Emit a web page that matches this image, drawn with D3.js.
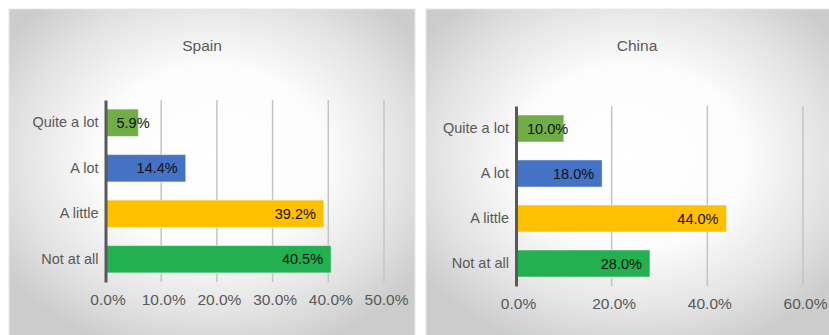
<!DOCTYPE html>
<html>
<head>
<meta charset="utf-8">
<script src="https://cdn.jsdelivr.net/npm/d3@7"></script>
<style>
  html, body { margin: 0; padding: 0; background: #ffffff; }
  svg { display: block; font-family: "Liberation Sans", Arial, Helvetica, sans-serif; }
</style>
</head>
<body>
<svg id="chart" width="829" height="335"></svg>
<script>
// Survey answers, shared by both panels
const categories = ["Quite a lot", "A lot", "A little", "Not at all"];
const barColors = ["#70ad47", "#4472c4", "#ffc000", "#22b050"];

// Share of respondents per answer (%)
const spainValues = [5.9, 14.4, 39.2, 40.5];
const chinaValues = [10.0, 18.0, 44.0, 28.0];

// Axis ticks per panel
const spainTicks = [0, 10, 20, 30, 40, 50];
const chinaTicks = [0, 20, 40, 60];

const panels = [
  { title: "Spain", values: spainValues, ticks: spainTicks,
    box: { x: 9, y: 9, w: 406, h: 330 },
    plot: { x0: 105.5, x1: 384, y0: 100, y1: 282 }, tickY: 300, titleX: 202 },
  { title: "China", values: chinaValues, ticks: chinaTicks,
    box: { x: 426, y: 9, w: 410, h: 330 },
    plot: { x0: 516, x1: 803, y0: 106, y1: 286 }, tickY: 304, titleX: 637 }
];

const svg = d3.select("#chart");
const defs = svg.append("defs");

panels.forEach((p, i) => {
  const gradId = "panelGlow" + i;
  const grad = defs.append("radialGradient")
    .attr("id", gradId)
    .attr("cx", "50%").attr("cy", "45%").attr("r", "62%");
  grad.append("stop").attr("offset", "0%").attr("stop-color", "#ffffff");
  grad.append("stop").attr("offset", "45%").attr("stop-color", "#fcfcfc");
  grad.append("stop").attr("offset", "78%").attr("stop-color", "#e2e2e2");
  grad.append("stop").attr("offset", "100%").attr("stop-color", "#cccccc");

  const g = svg.append("g");

  // Panel background
  g.append("rect")
    .attr("x", p.box.x).attr("y", p.box.y)
    .attr("width", p.box.w).attr("height", p.box.h)
    .attr("fill", `url(#${gradId})`)
    .attr("stroke", "#e8e8e8").attr("stroke-width", 1);

  // Title
  g.append("text")
    .attr("x", p.titleX).attr("y", 51)
    .attr("text-anchor", "middle")
    .attr("font-size", 15.5)
    .attr("fill", "#595959")
    .text(p.title);

  const x = d3.scaleLinear()
    .domain([0, d3.max(p.ticks)])
    .range([p.plot.x0, p.plot.x1]);

  const y = d3.scaleBand()
    .domain(categories)
    .range([p.plot.y0, p.plot.y1])
    .paddingInner(0.4)
    .paddingOuter(0.2);

  // Vertical gridlines
  g.append("g")
    .selectAll("line")
    .data(p.ticks.filter(t => t > 0))
    .join("line")
    .attr("x1", d => x(d)).attr("x2", d => x(d))
    .attr("y1", p.plot.y0).attr("y2", p.plot.y1)
    .attr("stroke", "#c4c4c4")
    .attr("stroke-width", 1.5);

  // Percentage tick labels along the bottom
  const xAxis = d3.axisBottom(x)
    .tickValues(p.ticks)
    .tickFormat(d => d.toFixed(1) + "%")
    .tickSize(0)
    .tickPadding(0);
  const ax = g.append("g")
    .attr("transform", `translate(2,${p.tickY - 8.5})`)
    .call(xAxis);
  ax.select(".domain").remove();
  ax.selectAll("text")
    .attr("font-size", 15.5)
    .attr("font-family", "\"Liberation Sans\", Arial, sans-serif")
    .attr("fill", "#595959")
    .attr("dy", "0.9em");

  // Bars
  g.append("g")
    .selectAll("rect")
    .data(categories)
    .join("rect")
    .attr("x", x(0))
    .attr("y", d => y(d))
    .attr("width", (d, j) => x(p.values[j]) - x(0))
    .attr("height", y.bandwidth())
    .attr("fill", (d, j) => barColors[j])
    .attr("stroke", "rgba(255,255,255,0.45)")
    .attr("stroke-width", 1);

  // Category axis
  const yAxis = d3.axisLeft(y).tickSize(0).tickPadding(7);
  const ay = g.append("g")
    .attr("transform", `translate(${x(0)},0)`)
    .call(yAxis);
  ay.select(".domain")
    .attr("stroke", "#595959")
    .attr("stroke-width", 3);
  ay.selectAll("text")
    .attr("font-size", 14.5)
    .attr("font-family", "\"Liberation Sans\", Arial, sans-serif")
    .attr("fill", "#595959");

  // Value labels at the inside end of each bar
  g.append("g")
    .selectAll("text")
    .data(categories)
    .join("text")
    .attr("y", d => y(d) + y.bandwidth() / 2)
    .attr("dy", "0.35em")
    .attr("text-anchor", "end")
    .attr("font-size", 14.5)
    .attr("fill", "#111111")
    .text((d, j) => p.values[j].toFixed(1) + "%")
    .each(function (d, j) {
      const w = this.getComputedTextLength();
      const xe = Math.max(x(p.values[j]) - 8, x(0) + 11 + w);
      d3.select(this).attr("x", xe);
    });
});
</script>
</body>
</html>
